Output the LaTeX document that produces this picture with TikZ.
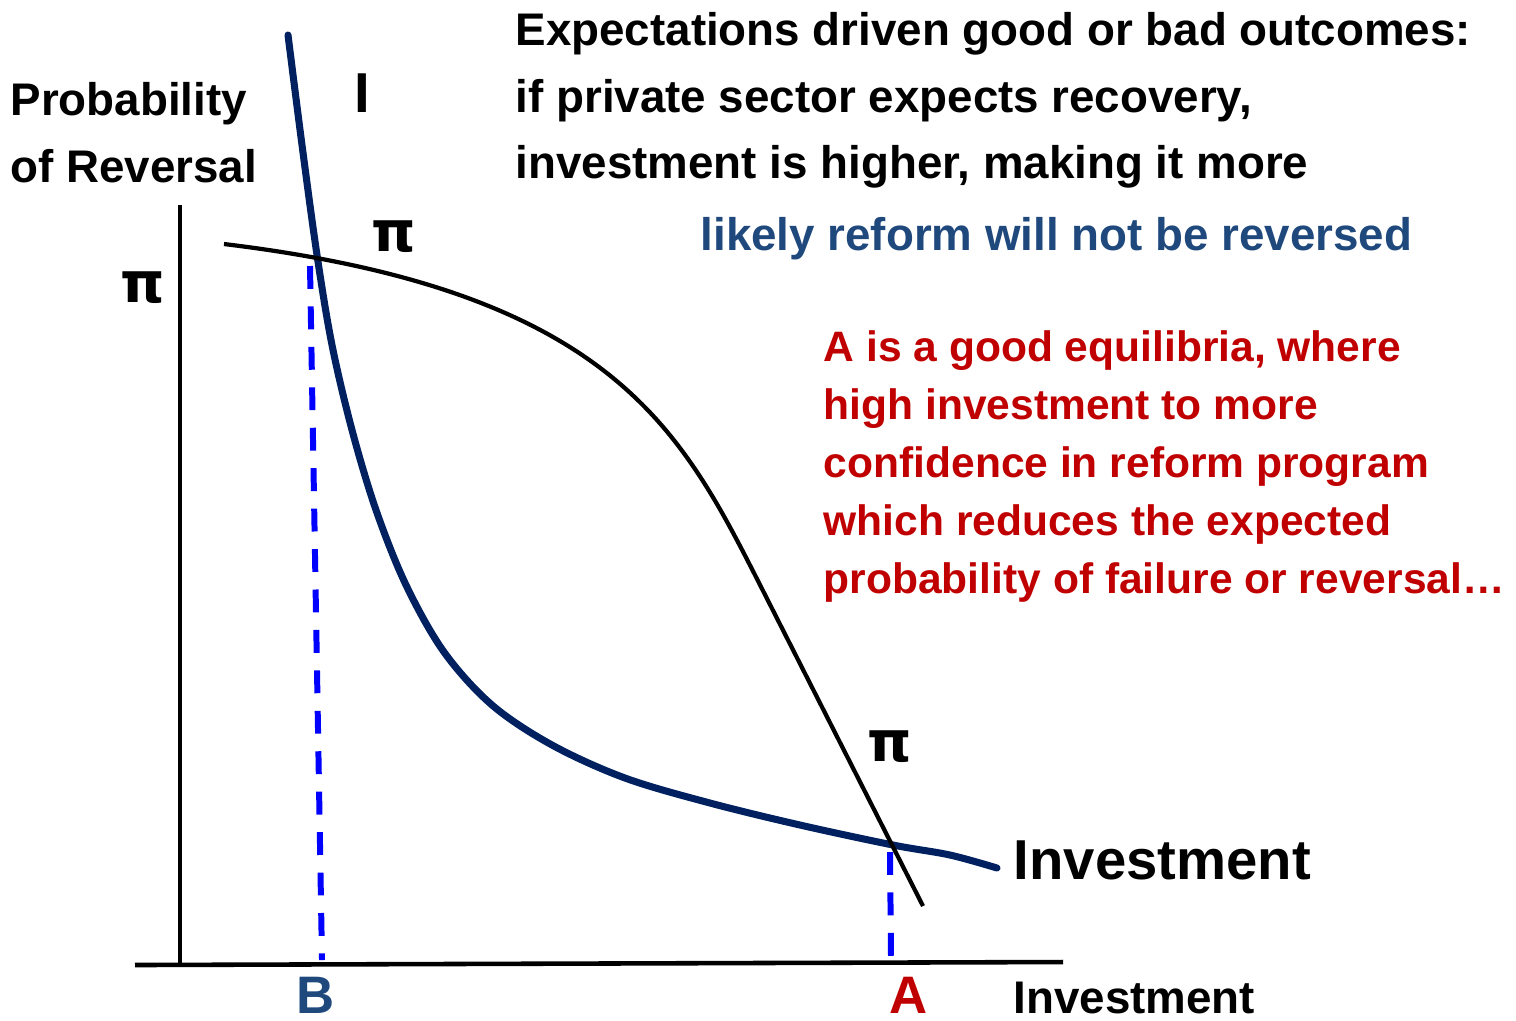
\documentclass[tikz,border=0pt]{standalone}
\usepackage{fontspec}
\setmainfont{Liberation Sans}
\newfontfamily\pifont{DejaVu Sans}
\definecolor{invnavy}{HTML}{002060}
\definecolor{textblue}{HTML}{1F497D}
\definecolor{textred}{HTML}{C00000}
\definecolor{dashblue}{HTML}{0000FF}

\begin{document}
\begin{tikzpicture}[x=0.01cm,y=-0.01cm,
  txt/.style={anchor=base west, inner sep=0pt, font=\fontsize{13}{15}\selectfont\bfseries},
  redtxt/.style={txt, text=textred, font=\fontsize{12.1}{14}\selectfont\bfseries},
  pilabel/.style={anchor=base, inner sep=0pt, font=\pifont\fontsize{16}{18}\selectfont\bfseries},
  eqlabel/.style={anchor=base, inner sep=0pt, font=\fontsize{15}{16}\selectfont\bfseries},
  guide/.style={dashblue, line width=1.7pt, dash pattern=on 6.5pt off 5pt}]
\useasboundingbox (0,0) rectangle (1516,1020);

% axes
\coordinate (yTop) at (180,205);
\coordinate (origin) at (180,963);
\coordinate (xLeft) at (135,965);
\coordinate (xRight) at (1063,962);
\draw [line width=1.3pt] (yTop) -- (origin);
\draw [line width=1.3pt] (xLeft) -- (xRight);

% equilibria
\coordinate (eqB) at (310,266);
\coordinate (axB) at (322,960);
\coordinate (eqA) at (890,852);
\coordinate (axA) at (891,958);
\draw [guide] (eqB) -- (axB);
\draw [guide] (eqA) -- (axA);

% investment curve I
\draw [invnavy, line width=2pt, line cap=round] plot [smooth, tension=0.55] coordinates {
  (288,35) (302,145) (317,255) (332,345) (352,430) (376,510) (406,585)
  (444,652) (492,705) (552,745) (625,778) (710,803) (800,825) (893,845)
  (950,855) (997,868)};

% probability of reversal curve
\draw [black, line width=1.2pt]
  (224,244) .. controls (604,290) and (678,424) .. (755,575) -- (923,906);

% labels
\path (10,115) node (ylab1) [txt] {Probability};
\path (10,182) node (ylab2) [txt] {of Reversal};
\path (362,112) node (Ilab) [anchor=base, inner sep=0pt, font=\fontsize{16}{18}\selectfont\bfseries] {I};
\path (143,302) node (pi1) [pilabel] {π};
\path (394,251) node (pi2) [pilabel] {π};
\path (890,761) node (pi3) [pilabel] {π};
\path (1013,879) node (invcurve) [txt, font=\fontsize{16}{18}\selectfont\bfseries] {Investment};
\path (1013,1013) node (xlab) [txt] {Investment};
\path (316,1013) node (Blab) [eqlabel, text=textblue] {B};
\path (909,1013) node (Alab) [eqlabel, text=textred] {A};

% explanation
\path (515,45) node (head1) [txt] {Expectations driven good or bad outcomes:};
\path (515,112) node (head2) [txt] {if private sector expects recovery,};
\path (515,178) node (head3) [txt] {investment is higher, making it more};
\path (700,250) node (head4) [txt, text=textblue] {likely reform will not be reversed};

\path (823,361) node (note1) [redtxt] {A is a good equilibria, where};
\path (823,419) node (note2) [redtxt] {high investment to more};
\path (823,477) node (note3) [redtxt] {confidence in reform program};
\path (823,535) node (note4) [redtxt] {which reduces the expected};
\path (823,593) node (note5) [redtxt] {probability of failure or reversal…};

\end{tikzpicture}
\end{document}
